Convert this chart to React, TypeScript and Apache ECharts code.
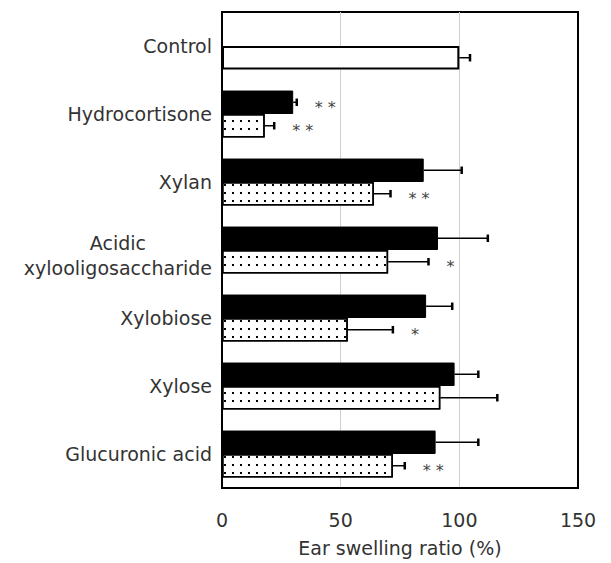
import React, { useEffect, useRef } from 'react';
import * as echarts from 'echarts';

const categories = ['Control', 'Hydrocortisone', 'Xylan', 'Acidic\nxylooligosaccharide', 'Xylobiose', 'Xylose', 'Glucuronic acid'];
const blackValues: (number | null)[] = [null, 30, 85, 91, 86, 98, 90];
const blackErrors: (number | null)[] = [null, 1.5, 16, 21, 11, 10, 18];
const blackSig = ['', '* *', '', '', '', '', ''];
const dottedValues: (number | null)[] = [100, 18, 64, 70, 53, 92, 72];
const dottedErrors: (number | null)[] = [4.5, 4, 7, 17, 19, 24, 5];
const dottedSig = ['', '* *', '* *', '*', '*', '', '* *'];
const xMin = 0;
const xMax = 150;
const xInterval = 50;

const FONT = 'DejaVu Sans';

function errorSeries(values: (number | null)[], errors: (number | null)[], sigs: string[], side: number) {
  return {
    type: 'custom',
    silent: true,
    z: 5,
    data: values.map((v, i) => [v == null ? 0 : v, i]),
    encode: { x: 0, y: 1 },
    renderItem: (params: any, api: any) => {
      const i = params.dataIndex;
      const v = values[i];
      const e = errors[i];
      if (v == null || e == null) return null;
      const start = api.coord([v, i]);
      const end = api.coord([v + e, i]);
      const band = api.size([0, 1])[1];
      const y = start[1] + side * band * 0.1725;
      const capH = band * 0.11;
      const children: any[] = [
        { type: 'line', shape: { x1: start[0], y1: y, x2: end[0], y2: y }, style: { stroke: '#000', lineWidth: 1.5 } },
        { type: 'line', shape: { x1: end[0], y1: y - capH / 2, x2: end[0], y2: y + capH / 2 }, style: { stroke: '#000', lineWidth: 2.5 } },
      ];
      if (sigs[i]) {
        children.push({
          type: 'text',
          x: end[0] + 18,
          y: y + 5,
          style: { text: sigs[i], fill: '#444', fontSize: 16, fontFamily: FONT, align: 'left', verticalAlign: 'middle' },
        });
      }
      return { type: 'group', children };
    },
  };
}

export default function App() {
  const ref = useRef<HTMLDivElement>(null);
  useEffect(() => {
    if (!ref.current) return;
    const chart = echarts.init(ref.current, undefined, { renderer: 'svg' });
    const decal = {
      symbol: 'rect',
      symbolSize: 1,
      dashArrayX: [1.6, 6],
      dashArrayY: [1.6, 6],
      color: '#000',
      rotation: 0,
    };
    chart.setOption({
      animation: false,
      backgroundColor: '#fff',
      textStyle: { fontFamily: FONT },
      grid: {
        left: 222,
        right: 33,
        top: 12,
        bottom: 75,
        show: true,
        borderColor: '#000',
        borderWidth: 2,
        outerBoundsMode: 'none',
      },
      xAxis: {
        type: 'value',
        min: xMin,
        max: xMax,
        interval: xInterval,
        name: 'Ear swelling ratio (%)',
        nameLocation: 'middle',
        nameGap: 50,
        nameTextStyle: { fontSize: 19, color: '#333', fontFamily: FONT },
        axisLine: { show: true, lineStyle: { color: '#000', width: 2 } },
        axisTick: { show: false },
        axisLabel: { fontSize: 19, color: '#333', margin: 22, fontFamily: FONT },
        splitLine: { show: true, showMinLine: false, showMaxLine: false, lineStyle: { color: '#d0d0d0', width: 1 } },
      },
      yAxis: {
        type: 'category',
        data: categories.map((c) => (c.includes('\n') ? { value: c, textStyle: { padding: [10, 0, 0, 0] } } : c)),
        inverse: true,
        axisLine: { show: true, lineStyle: { color: '#000', width: 2 } },
        axisTick: { show: false },
        axisLabel: {
          fontSize: 19,
          color: '#333',
          margin: 10,
          fontFamily: FONT,
          formatter: (v: string) => (v.includes('\n') ? v.split('\n').map((s) => `{c|${s}}`).join('\n') : v),
          rich: { c: { align: 'center', fontSize: 19, color: '#333', lineHeight: 25, fontFamily: FONT } },
        },
        splitLine: { show: false },
      },
      series: [
        {
          type: 'bar',
          data: blackValues.map((v) => (v == null ? '-' : v)),
          barGap: '0%',
          barCategoryGap: '31%',
          itemStyle: { color: '#000', borderColor: '#000', borderWidth: 1 },
        },
        {
          type: 'bar',
          data: dottedValues.map((v, i) =>
            i === 0 ? { value: v, itemStyle: { color: '#fff', decal: 'none', borderWidth: 2 } } : v
          ),
          barGap: '0%',
          barCategoryGap: '31%',
          itemStyle: { color: '#fff', borderColor: '#000', borderWidth: 1.5, decal },
        },
        errorSeries(blackValues, blackErrors, blackSig, -1),
        errorSeries(dottedValues, dottedErrors, dottedSig, 1),
      ],
    });
    return () => chart.dispose();
  }, []);
  return <div ref={ref} style={{ position: 'fixed', left: 0, top: 0, width: 611, height: 563 }} />;
}
